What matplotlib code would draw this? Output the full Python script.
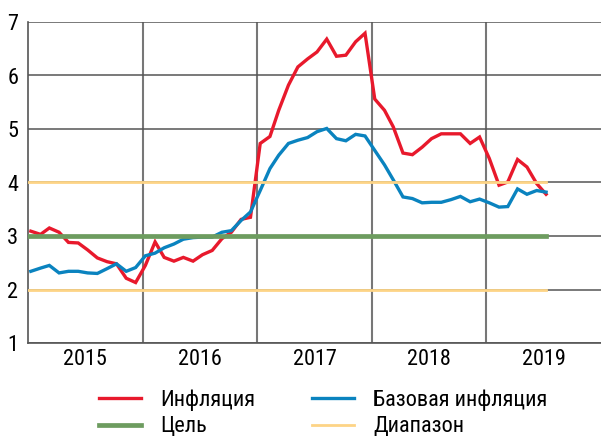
import numpy as np
import pandas as pd
import matplotlib
matplotlib.use('Agg')
import matplotlib.pyplot as plt
from matplotlib import font_manager

# monthly readings, Jan 2015 .. Jul 2019
months = pd.date_range('2015-01-01', periods=55, freq='MS') + pd.Timedelta(days=9)

inflation = [3.09, 3.03, 3.15, 3.07, 2.88, 2.87, 2.74, 2.59, 2.52, 2.48, 2.21, 2.13,
             2.45, 2.89, 2.60, 2.53, 2.60, 2.53, 2.65, 2.73, 2.95, 3.07, 3.31, 3.35,
             4.73, 4.86, 5.35, 5.82, 6.16, 6.31, 6.44, 6.68, 6.36, 6.38, 6.63, 6.79,
             5.56, 5.35, 5.04, 4.55, 4.52, 4.66, 4.82, 4.91, 4.91, 4.91, 4.73, 4.85,
             4.45, 3.95, 4.01, 4.43, 4.29, 3.98, 3.78]
core = [2.34, 2.40, 2.45, 2.31, 2.34, 2.34, 2.31, 2.30, 2.39, 2.48, 2.34, 2.41,
        2.63, 2.68, 2.78, 2.85, 2.94, 2.97, 2.98, 2.98, 3.07, 3.10, 3.29, 3.45,
        3.85, 4.26, 4.51, 4.73, 4.79, 4.84, 4.95, 5.01, 4.82, 4.78, 4.90, 4.87,
        4.60, 4.33, 4.05, 3.73, 3.70, 3.62, 3.63, 3.63, 3.68, 3.74, 3.64, 3.69,
        3.62, 3.54, 3.55, 3.88, 3.78, 3.85, 3.82]
target = 3
band_low, band_high = 2, 4
years = [2015, 2016, 2017, 2018, 2019]

RED = '#e8192c'
BLUE = '#0a83bf'
GREEN = '#6d9c5f'
ORANGE = '#fdd486'
GRID = '#555555'

# prefer a narrow face if one is around
names = {f.name for f in font_manager.fontManager.ttflist}
narrow = [f for f in ['Liberation Sans Narrow', 'Roboto Condensed', 'Open Sans Condensed',
                      'DejaVu Sans Condensed'] if f in names]
plt.rcParams['font.family'] = narrow + ['DejaVu Sans']
plt.rcParams['font.stretch'] = 'condensed'
plt.rcParams['font.size'] = 16

fig = plt.figure(figsize=(6.01, 4.36), dpi=100)
ax = fig.add_axes([28 / 601, 1 - 343 / 436, 1 - 28 / 601, (343 - 22) / 436])

ax.plot(months, inflation, color=RED, lw=2.4, zorder=3, solid_joinstyle='miter')
ax.plot(months, core, color=BLUE, lw=2.4, zorder=3, solid_joinstyle='miter')
span = [pd.Timestamp('2015-01-01'), months[-1]]
ax.plot(span, [target, target], color=GREEN, lw=3.4, zorder=4)
ax.plot(span, [band_low, band_low], color=ORANGE, lw=2.0, zorder=4)
ax.plot(span, [band_high, band_high], color=ORANGE, lw=2.0, zorder=4)

ax.set_xlim(pd.Timestamp('2015-01-01'), pd.Timestamp('2020-01-01'))
ax.set_ylim(1, 7)
ax.set_yticks(range(1, 8))

# year labels in the middle, grid at year boundaries
ax.set_xticks([pd.Timestamp(f'{y}-07-02') for y in years])
ax.set_xticklabels([str(y) for y in years])
ax.set_xticks([pd.Timestamp(f'{y}-01-01') for y in years[1:]], minor=True)
ax.tick_params(axis='x', which='both', length=0, pad=4)
ax.tick_params(axis='y', length=0, pad=7)
ax.grid(axis='x', which='minor', color='#777777', lw=1.5, zorder=1)
ax.grid(axis='y', which='major', color=GRID, lw=1.1, zorder=1)

for side in ['top', 'right']:
    ax.spines[side].set_visible(False)
for side in ['left', 'bottom']:
    ax.spines[side].set_color(GRID)
    ax.spines[side].set_linewidth(1.2)

# legend in two columns
h_red, = ax.plot([], [], color=RED, lw=2.4)
h_blue, = ax.plot([], [], color=BLUE, lw=2.4)
h_green, = ax.plot([], [], color=GREEN, lw=3.4)
h_orange, = ax.plot([], [], color=ORANGE, lw=2.0)
opts = dict(frameon=False, handlelength=1.9, handletextpad=0.85, labelspacing=0.26,
            borderpad=0, borderaxespad=0, loc='upper left', fontsize=16)
leg1 = fig.legend([h_red, h_green], ['Инфляция', 'Цель'],
                  bbox_to_anchor=(99 / 601, 1 - 389 / 436), **opts)
leg2 = fig.legend([h_blue, h_orange], ['Базовая инфляция', 'Диапазон'],
                  bbox_to_anchor=(312 / 601, 1 - 389 / 436), **opts)

fig.savefig('out.png', dpi=100)
